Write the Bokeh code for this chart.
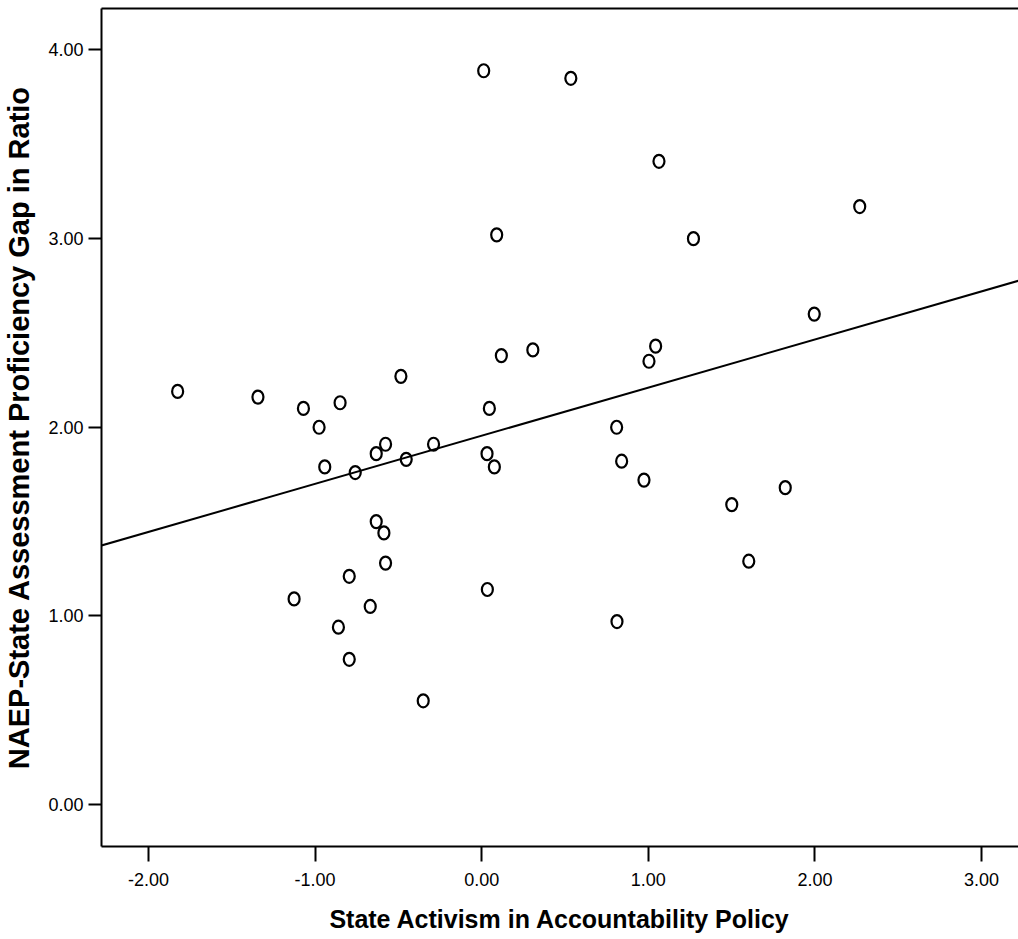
from bokeh.plotting import figure
from bokeh.models import (ColumnDataSource, LinearAxis, FixedTicker, Range1d,
                          NumeralTickFormatter, Slope)
from bokeh.embed import file_html
from bokeh.resources import INLINE

# state activism score vs NAEP-state proficiency gap ratio
activism = [-1.825, -1.343, -1.070, -0.850, -0.976, -0.485, -0.577, -0.633,
            -0.289, -0.453, -0.942, -0.759, -0.633, -0.587, -0.577, -0.795,
            -1.126, -0.669, -0.860, -0.795, -0.351,
            0.012, 0.535, 1.064, 0.090, 1.271, 0.118, 0.307, 1.044, 1.004,
            0.046, 0.810, 0.032, 0.076, 0.840, 0.974, 1.501, 1.603, 0.034,
            0.812, 2.269, 1.996, 1.822]
gap_ratio = [2.19, 2.16, 2.10, 2.13, 2.00, 2.27, 1.91, 1.86,
             1.91, 1.83, 1.79, 1.76, 1.50, 1.44, 1.28, 1.21,
             1.09, 1.05, 0.94, 0.77, 0.55,
             3.89, 3.85, 3.41, 3.02, 3.00, 2.38, 2.41, 2.43, 2.35,
             2.10, 2.00, 1.86, 1.79, 1.82, 1.72, 1.59, 1.29, 1.14,
             0.97, 3.17, 2.60, 1.68]

# fit line
fit_slope = 0.255
fit_intercept = 1.955

x_ticks = [-2, -1, 0, 1, 2, 3]
y_ticks = [0, 1, 2, 3, 4]

FONT = "Liberation Sans"

p = figure(width=1018, height=939, output_backend="svg", toolbar_location=None,
           x_range=Range1d(-2.282, 3.222), y_range=Range1d(-0.2225, 4.22),
           min_border_left=94, min_border_right=0, min_border_top=8,
           min_border_bottom=93)
p.outline_line_color = None
p.xgrid.visible = False
p.ygrid.visible = False

source = ColumnDataSource(data=dict(x=activism, y=gap_ratio))
p.ellipse(x='x', y='y', width=11, height=13, width_units="screen",
          height_units="screen", source=source, fill_color=None,
          line_color="black", line_width=2.2)

p.add_layout(Slope(gradient=fit_slope, y_intercept=fit_intercept,
                   line_color="black", line_width=2))

xax = p.below[0]
yax = p.left[0]

# top frame line
top = LinearAxis(ticker=FixedTicker(ticks=[]), axis_line_color="black",
                 axis_line_width=2, major_tick_out=0, major_tick_in=0,
                 minor_tick_out=0, minor_tick_in=0,
                 major_label_text_font_size="0px")
p.add_layout(top, "above")

for ax in (xax, yax):
    ax.axis_line_color = "black"
    ax.axis_line_width = 2
    ax.major_tick_line_color = "black"
    ax.major_tick_line_width = 2
    ax.major_tick_in = 0
    ax.minor_tick_line_color = None
    ax.major_label_text_font = FONT
    ax.major_label_text_font_size = "18px"
    ax.major_label_text_color = "black"
    ax.axis_label_text_font = FONT
    ax.axis_label_text_font_style = "bold"
    ax.axis_label_text_color = "black"
    ax.formatter = NumeralTickFormatter(format="0.00")

xax.ticker = FixedTicker(ticks=x_ticks)
xax.major_tick_out = 15
xax.major_label_standoff = 11
xax.axis_label = "State Activism in Accountability Policy"
xax.axis_label_text_font_size = "25px"
xax.axis_label_standoff = 16

yax.ticker = FixedTicker(ticks=y_ticks)
yax.major_tick_out = 13
yax.major_label_standoff = 5
yax.axis_label = "NAEP-State Assessment Proficiency Gap in Ratio"
yax.axis_label_text_font_size = "29px"
yax.axis_label_standoff = 10

open("out.html", "w").write(file_html(p, INLINE))
